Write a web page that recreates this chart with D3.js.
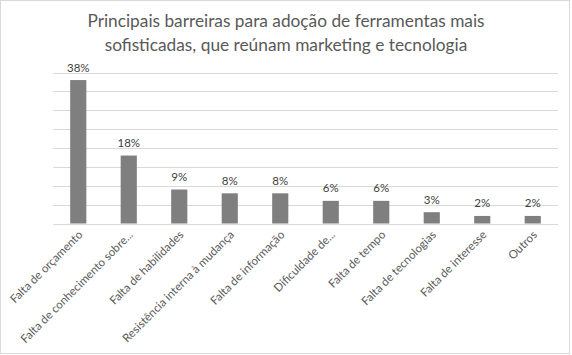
<!DOCTYPE html>
<html><head><meta charset="utf-8">
<script src="https://cdn.jsdelivr.net/npm/d3@7"></script>
<style>
html,body{margin:0;padding:0;background:#fff;}
svg{display:block;}
</style></head>
<body>
<svg id="chart" width="572" height="355"></svg>
<script>
const titleLines = ["Principais barreiras para adoção de ferramentas mais", "sofisticadas, que reúnam marketing e tecnologia"];
const categories = ["Falta de orçamento","Falta de conhecimento sobre...","Falta de habilidades","Resistência interna à mudança","Falta de informação","Dificuldade de...","Falta de tempo","Falta de tecnologias","Falta de interesse","Outros"];
const values = [38,18,9,8,8,6,6,3,2,2];
const gridTicks = [0,5,10,15,20,25,30,35,40];

const svg = d3.select("#chart");
const W = 572, H = 355;
const margin = {left:53, right:14, top:72.5, bottom:131.5};
const FONT = "Lato, 'Open Sans', sans-serif";

svg.append("rect").attr("x",0.5).attr("y",0.5).attr("width",W-3).attr("height",H-2)
  .attr("fill","#fff").attr("stroke","#d9d9d9");

const x = d3.scaleBand().domain(categories).range([margin.left, W - margin.right]).paddingInner(0.68).paddingOuter(0.34);
const y = d3.scaleLinear().domain([0,40]).range([H - margin.bottom, margin.top]);

svg.append("g").selectAll("line").data(gridTicks).join("line")
  .attr("x1", margin.left).attr("x2", W - margin.right)
  .attr("y1", d => Math.round(y(d)) + 0.5).attr("y2", d => Math.round(y(d)) + 0.5)
  .attr("stroke", "#d9d9d9").attr("stroke-width", 1);

svg.append("g").selectAll("rect").data(values).join("rect")
  .attr("x", (d,i) => x(categories[i]))
  .attr("width", x.bandwidth())
  .attr("y", d => y(d))
  .attr("height", d => y(0) - y(d))
  .attr("fill", "#7f7f7f");

svg.append("g").selectAll("text").data(values).join("text")
  .attr("x", (d,i) => x(categories[i]) + x.bandwidth()/2)
  .attr("y", d => y(d) - 8.5)
  .attr("text-anchor","middle")
  .attr("font-family",FONT)
  .attr("font-size", 11.5)
  .attr("fill","#404040")
  .text(d => d + "%");

const xAxis = d3.axisBottom(x).tickSize(0).tickPadding(0);
const gx = svg.append("g").attr("transform", `translate(0,${y(0)})`).call(xAxis);
gx.select(".domain").remove();
gx.selectAll("text")
  .attr("font-family",FONT)
  .attr("font-size", 11.5)
  .attr("fill","#595959")
  .attr("text-anchor","end")
  .attr("dy", null)
  .attr("y", 0)
  .attr("transform","translate(5,12) rotate(-45)");

svg.append("text")
  .attr("x", 286).attr("y", 0)
  .attr("text-anchor","middle")
  .attr("font-family",FONT)
  .attr("font-size", 17.3)
  .attr("fill","#595959")
  .selectAll("tspan").data(titleLines).join("tspan")
  .attr("x", 286)
  .attr("y", (d,i) => 27 + i*24)
  .text(d => d);
</script>
</body></html>
